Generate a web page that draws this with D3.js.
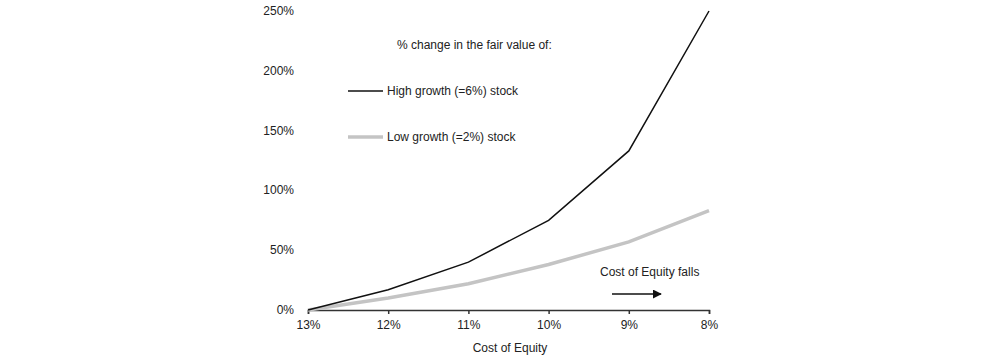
<!DOCTYPE html>
<html>
<head>
<meta charset="utf-8">
<script src="https://cdn.jsdelivr.net/npm/d3@7"></script>
<style>
  body { margin: 0; background: #fff; }
  text { font-family: "Liberation Sans", Arial, sans-serif; fill: #222; }
</style>
</head>
<body>
<div id="chart"></div>
<script>
const categories = ['13%', '12%', '11%', '10%', '9%', '8%']
const highGrowth = [0, 17, 40, 75, 133, 250]
const lowGrowth = [0, 10, 22, 38, 57, 83]
const yTicks = [0, 50, 100, 150, 200, 250]

const w = 1003
const h = 360

const svg = d3.select('#chart')
    .append('svg')
    .attr('width', w)
    .attr('height', h)

// x is a point scale over the cost-of-equity labels
const xScale = d3.scalePoint()
    .domain(categories)
    .range([308, 709])

const yScale = d3.scaleLinear()
    .domain([0, 250])
    .range([310, 11])

// y labels only, no axis line
svg.selectAll('.ylab')
    .data(yTicks)
    .enter()
    .append('text')
    .attr('x', 294)
    .attr('y', (d) => yScale(d) + 4)
    .attr('text-anchor', 'end')
    .style('font-size', '12px')
    .text((d) => d + '%')

// x axis
const xAxis = svg.append('g')
    .attr('transform', 'translate(0,310)')
    .call(d3.axisBottom(xScale).tickSize(4).tickPadding(6))
xAxis.select('.domain').attr('stroke', '#333').attr('stroke-width', 1.5)
xAxis.selectAll('.tick line').attr('stroke', '#333').attr('stroke-width', 1.5)
xAxis.selectAll('.tick text')
    .style('font-size', '12px')
    .style('font-family', '"Liberation Sans", Arial, sans-serif')
    .attr('fill', '#222')

svg.append('text')
    .attr('x', 510)
    .attr('y', 352)
    .attr('text-anchor', 'middle')
    .style('font-size', '12px')
    .text('Cost of Equity')

const line = d3.line()
    .x((d, i) => xScale(categories[i]))
    .y((d) => yScale(d))

svg.append('path')
    .datum(lowGrowth)
    .attr('d', line)
    .attr('fill', 'none')
    .attr('stroke', '#c4c4c4')
    .attr('stroke-width', 3.5)

svg.append('path')
    .datum(highGrowth)
    .attr('d', line)
    .attr('fill', 'none')
    .attr('stroke', '#111')
    .attr('stroke-width', 1.5)

// legend
svg.append('text')
    .attr('x', 397)
    .attr('y', 49)
    .style('font-size', '12px')
    .text('% change in the fair value of:')

const legend = [
    { name: 'High growth (=6%) stock', color: '#111', width: 1.5, y: 91 },
    { name: 'Low growth (=2%) stock', color: '#c4c4c4', width: 3.5, y: 137 }
]
legend.forEach((l) => {
    svg.append('line')
        .attr('x1', 348).attr('x2', 383)
        .attr('y1', l.y).attr('y2', l.y)
        .attr('stroke', l.color)
        .attr('stroke-width', l.width)
    svg.append('text')
        .attr('x', 387)
        .attr('y', l.y + 4)
        .style('font-size', '12px')
        .text(l.name)
})

// annotation
svg.append('text')
    .attr('x', 600)
    .attr('y', 276)
    .style('font-size', '12px')
    .text('Cost of Equity falls')

svg.append('defs').append('marker')
    .attr('id', 'arrow')
    .attr('viewBox', '0 0 10 10')
    .attr('refX', 9).attr('refY', 5)
    .attr('markerWidth', 6).attr('markerHeight', 6)
    .attr('orient', 'auto')
    .append('path')
    .attr('d', 'M0,0L10,5L0,10z')
    .attr('fill', '#111')

svg.append('line')
    .attr('x1', 612).attr('x2', 661)
    .attr('y1', 294).attr('y2', 294)
    .attr('stroke', '#111')
    .attr('stroke-width', 1.5)
    .attr('marker-end', 'url(#arrow)')
</script>
</body>
</html>
